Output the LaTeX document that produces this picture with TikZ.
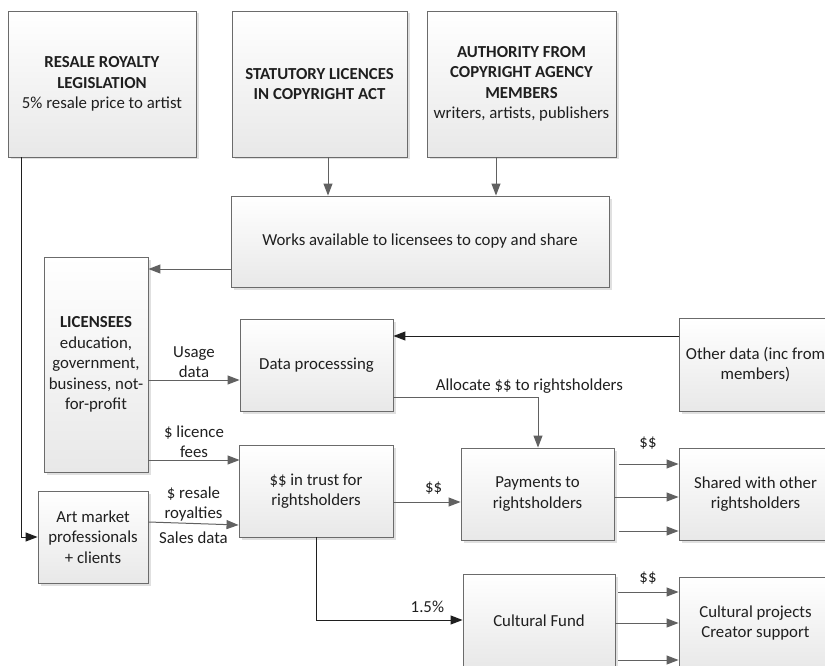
\documentclass[tikz,border=0pt]{standalone}
\usepackage{fontspec}
\setmainfont{Carlito}
\usetikzlibrary{arrows.meta,positioning,shadows,calc}

\begin{document}
\begin{tikzpicture}[x=1pt,y=-1pt,
  box/.style={draw=black!58,line width=0.9pt,top color=white,bottom color=black!9,
    align=center,inner sep=2pt,text=black!88,
    drop shadow={shadow xshift=2.5pt,shadow yshift=-2.5pt,fill=black!12,opacity=1}},
  arr/.style={draw=black!62,line width=1pt,-{Triangle[length=12pt,width=9pt,fill=black!62]}},
  blk/.style={draw=black!88,line width=1pt,-{Triangle[length=12pt,width=9pt,fill=black!88]}},
  lbl/.style={align=center,inner sep=1.5pt,text=black!88},
  every node/.style={font=\fontsize{16.8}{20.5}\selectfont}]
\useasboundingbox (0,0) rectangle (825,666);

% Sources
\node[box,minimum width=188pt,minimum height=146pt] (resale) at (102,84)
  {\textbf{RESALE ROYALTY}\\\textbf{LEGISLATION}\\5\% resale price to artist};
\node[box,minimum width=175pt,minimum height=146pt] (statutory) at (319.5,84)
  {\textbf{STATUTORY LICENCES}\\\textbf{IN COPYRIGHT ACT}};
\node[box,minimum width=189pt,minimum height=146pt] (authority) at (521.5,84)
  {\textbf{AUTHORITY FROM}\\\textbf{COPYRIGHT AGENCY}\\\textbf{MEMBERS}\\writers, artists, publishers};
\node[box,minimum width=378pt,minimum height=91pt] (works) at (420,241.5)
  {Works available to licensees to copy and share};

% Licensees and data
\node[box,minimum width=104pt,minimum height=215pt] (licensees) at (96,364.5)
  {\textbf{LICENSEES}\\education,\\government,\\business, not-\\for-profit};
\node[box,minimum width=153pt,minimum height=92pt] (dataproc) at (316.5,365) {Data processsing};
\node[box,minimum width=153pt,minimum height=93pt] (other) at (755.5,364.5)
  {Other data (inc from\\members)};
\node[box,minimum width=110pt,minimum height=92pt] (artmkt) at (93,537)
  {Art market\\professionals\\+ clients};

% Money
\node[box,minimum width=154pt,minimum height=92pt] (trust) at (316,491)
  {\$\$ in trust for\\rightsholders};
\node[box,minimum width=153pt,minimum height=92pt] (pay) at (537.5,494)
  {Payments to\\rightsholders};
\node[box,minimum width=153pt,minimum height=92pt] (shared) at (755.5,494)
  {Shared with other\\rightsholders};
\node[box,minimum width=152pt,minimum height=93pt] (fund) at (539,620.5) {Cultural Fund};
\node[box,minimum width=153pt,minimum height=92pt] (projects) at (755.5,623)
  {Cultural projects\\Creator support};

% Flows into the works
\draw[arr] (statutory.south -| 328,0) -- (works.north -| 328,0);
\draw[arr] (authority.south -| 496,0) -- (works.north -| 496,0);
\draw[arr] (works.west |- 0,269) -- (licensees.east |- 0,269);
\draw[blk] (resale.south -| 21,0) |- (artmkt.west);

% Data and fees
\draw[arr] (licensees.east |- 0,380) -- node[lbl,above] {Usage\\data} (dataproc.west |- 0,380);
\draw[arr] (licensees.east |- 0,460) -- node[lbl,above] {\$ licence\\fees} (dataproc.west |- 0,460);
\draw[arr] (artmkt.east |- 0,522) -- node[lbl,above] {\$ resale\\royalties}
  node[lbl,below=6pt] {Sales data} (trust.west |- 0,525);
\draw[blk] (other.west |- 0,336) -- (dataproc.east |- 0,336);
\draw[arr] (dataproc.east |- 0,397) -| node[lbl,above=2pt,pos=0.47] {Allocate \$\$ to rightsholders} (pay.north -| 538,0);

% Payments
\draw[arr] (trust.east |- 0,502) -- node[lbl,above=6pt,pos=0.6] {\$\$} (pay.west |- 0,502);
\draw[blk] (trust.south -| 316,0) |- node[lbl,above=5pt,pos=0.88] {1.5\%} (fund.west |- 0,620);
\foreach \y/\s in {464/5,497/0,531/5}
  \draw[arr] ([xshift=\s pt]pay.east |- 0,\y) -- (shared.west |- 0,\y);
\foreach \y/\s in {592/3,623/0,660/3}
  \draw[arr] ([xshift=\s pt]fund.east |- 0,\y) -- (projects.west |- 0,\y);
\node[lbl] (paylbl) at (648,443) {\$\$};
\node[lbl] (fundlbl) at (648,578) {\$\$};
\end{tikzpicture}
\end{document}
